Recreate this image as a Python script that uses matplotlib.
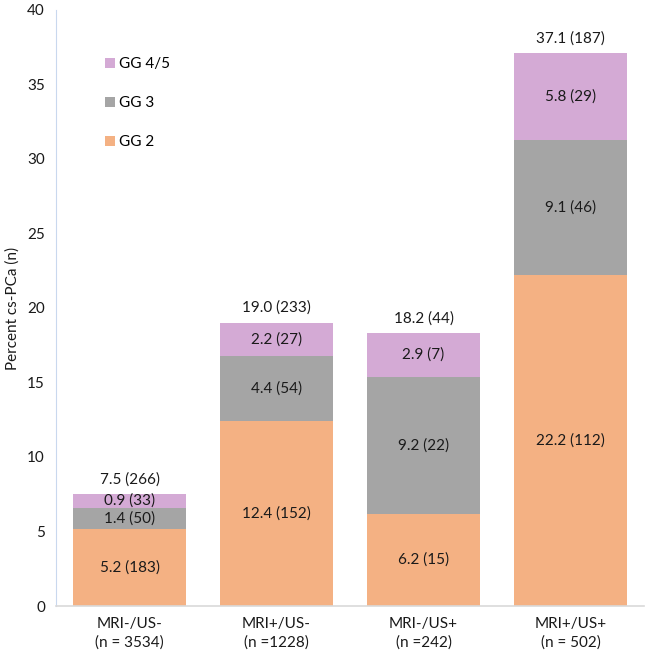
import matplotlib
matplotlib.use("Agg")
import matplotlib.pyplot as plt
import numpy as np

plt.rcParams['font.family'] = ['Lato', 'DejaVu Sans']

categories = ["MRI-/US-\n(n = 3534)", "MRI+/US-\n(n =1228)", "MRI-/US+\n(n =242)", "MRI+/US+\n(n = 502)"]
gg2 = [5.2, 12.4, 6.2, 22.2]
gg2_n = [183, 152, 15, 112]
gg3 = [1.4, 4.4, 9.2, 9.1]
gg3_n = [50, 54, 22, 46]
gg45 = [0.9, 2.2, 2.9, 5.8]
gg45_n = [33, 27, 7, 29]
total = [7.5, 19.0, 18.2, 37.1]
total_n = [266, 233, 44, 187]

c2 = '#F4B183'
c3 = '#A5A5A5'
c45 = '#D4AAD5'

fig = plt.figure(figsize=(6.46, 6.58), dpi=100)
ax = fig.add_axes([0.0867, 0.079, 0.9103, 0.906])

x = np.arange(len(categories))
w = 0.77
gg2a = np.array(gg2); gg3a = np.array(gg3); gg45a = np.array(gg45)
b2 = ax.bar(x, gg2a, w, color=c2, label='GG 2')
b3 = ax.bar(x, gg3a, w, bottom=gg2a, color=c3, label='GG 3')
b45 = ax.bar(x, gg45a, w, bottom=gg2a + gg3a, color=c45, label='GG 4/5')

fs = 11
tc = '#1a1a1a'
for i in range(len(x)):
    ax.text(x[i], gg2a[i] / 2, f"{gg2[i]:.1f} ({gg2_n[i]})", ha='center', va='center', fontsize=fs, color=tc)
    ax.text(x[i], gg2a[i] + gg3a[i] / 2, f"{gg3[i]:.1f} ({gg3_n[i]})", ha='center', va='center', fontsize=fs, color=tc)
    ax.text(x[i], gg2a[i] + gg3a[i] + gg45a[i] / 2, f"{gg45[i]:.1f} ({gg45_n[i]})", ha='center', va='center', fontsize=fs, color=tc)
    top = gg2a[i] + gg3a[i] + gg45a[i]
    ax.text(x[i], top + 1.0, f"{total[i]:.1f} ({total_n[i]})", ha='center', va='center', fontsize=fs, color=tc)

ax.set_xlim(-0.5, 3.5)
ax.set_ylim(0, 40)
ax.set_yticks(range(0, 41, 5))
ax.set_xticks(x)
ax.set_xticklabels(categories, fontsize=fs, color=tc, linespacing=1.35)
ax.tick_params(axis='y', labelsize=fs, colors=tc, length=0, pad=8)
ax.tick_params(axis='x', length=0, pad=8)
ax.set_ylabel('Percent cs-PCa (n)', fontsize=fs, color=tc)
ax.yaxis.label.set_verticalalignment('center')
ax.yaxis.set_label_coords(-0.074, 0.5)

for s in ['top', 'right']:
    ax.spines[s].set_visible(False)
ax.spines['left'].set_color('#C9D8EE')
ax.spines['bottom'].set_color('#D9D9D9')
ax.spines['bottom'].set_linewidth(1.2)

handles = [b45, b3, b2]
ax.legend(handles, ['GG 4/5', 'GG 3', 'GG 2'], loc='upper left', bbox_to_anchor=(0.083, 0.921),
          frameon=False, fontsize=fs, handlelength=0.65, handleheight=0.65, handletextpad=0.3,
          labelspacing=1.65, borderpad=0, borderaxespad=0)

fig.savefig('out.png', dpi=100)
